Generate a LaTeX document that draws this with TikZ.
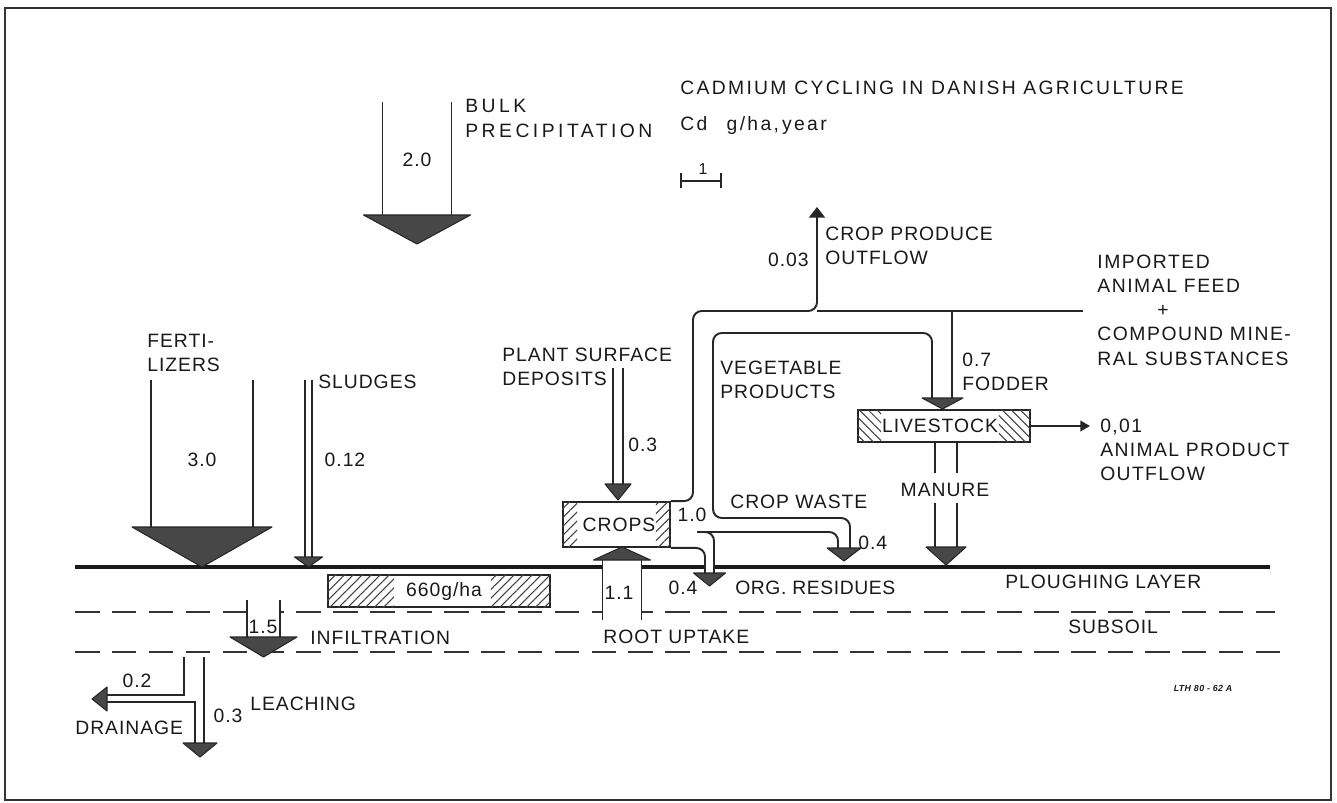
\documentclass[tikz,border=0pt]{standalone}
\usepackage{fontspec}
\setmainfont{Liberation Sans}[LetterSpace=5]
\usetikzlibrary{arrows.meta,patterns.meta,positioning}

% broad flow: x centre, shaft end, head base, half shaft, half head, tip
\newcommand\fatflow[6]{%
  \fill[white] ({#1-#4},#2) rectangle ({#1+#4},#3);
  \draw[line] ({#1-#4},#2) -- ({#1-#4},#3) ({#1+#4},#2) -- ({#1+#4},#3);
  \filldraw[head] ({#1-#5},#3) -- ({#1+#5},#3) -- (#1,#6) -- cycle;}

\begin{document}
\begin{tikzpicture}[
    x=0.02cm, y=-0.02cm,
    font=\fontsize{11}{13.8}\selectfont,
    line/.style={draw=black!85, line width=1.1pt},
    pipe/.style={line, rounded corners=5pt},
    head/.style={fill=black!72, draw=black!85, line width=0.6pt, line join=round},
    lbl/.style={inner sep=0pt, text=black!90, align=left},
    wide/.style={lbl, font=\fontsize{11}{13.8}\selectfont\addfontfeature{LetterSpace=#1}},
    store/.style={draw=black!85, line width=1.1pt, fill=white, inner sep=0pt},
    hatchR/.style={pattern={Lines[angle=45,distance=3.6pt,line width=0.6pt]}, pattern color=black!75},
    hatchL/.style={pattern={Lines[angle=-45,distance=3.6pt,line width=0.6pt]}, pattern color=black!75},
    ground/.style={draw=black!90, line width=2.6pt},
    layer/.style={draw=black!80, line width=1pt, dash pattern=on 14pt off 7pt}
  ]
  \useasboundingbox (0,0) rectangle (1337,803);
  \draw[black!80, line width=1.6pt] (5,8) rectangle (1331,800);

  % soil surface and layers
  \draw[ground] (75,567) -- (1270,567);
  \draw[layer] (75,612) -- (1275,612);
  \draw[layer] (75,652) -- (1280,652);

  % storages
  \node[store, minimum width=4.44cm, minimum height=0.64cm] (pool) at (439,591) {};
  \fill[hatchR] (pool.north west) rectangle ([xshift=1.34cm]pool.south west);
  \fill[hatchR] ([xshift=-1.2cm]pool.north east) rectangle (pool.south east);
  \node[lbl] (pooltxt) at (444,591) {660g/ha};

  \node[store, minimum width=2.14cm, minimum height=0.9cm] (crops) at (616.5,524.5) {};
  \fill[hatchR] (crops.north west) rectangle ([xshift=0.3cm]crops.south west);
  \fill[hatchR] ([xshift=-0.3cm]crops.north east) rectangle (crops.south east);
  \node[lbl] (cropstxt) at (619,524.5) {CROPS};

  \node[store, minimum width=3.44cm, minimum height=0.64cm] (stock) at (944,426) {};
  \fill[hatchL] (stock.north west) rectangle ([xshift=0.48cm]stock.south west);
  \fill[hatchL] ([xshift=-0.64cm]stock.north east) rectangle (stock.south east);
  \node[lbl] (stocktxt) at (940,426) {LIVESTOCK};

  % inputs from above
  \fatflow{417}{102}{215}{34.5}{53.5}{244}
  \fatflow{202}{380}{527}{51}{70}{567}
  \fatflow{308.5}{380}{557}{3.5}{14}{567}
  \fatflow{618}{368}{484}{5}{13}{500}
  % root uptake, infiltration
  \fatflow{622}{620}{560}{19.5}{28.5}{547}
  \fatflow{263.5}{600}{637}{16.5}{33.5}{657}

  % pipes leaving the crops
  \coordinate (split) at (697,532);
  \coordinate (cpo) at (817,207);
  \coordinate (feed) at (1083,311);
  \draw[pipe, -{Triangle[width=9pt,length=6pt]}] (crops.north east) -| (693,311) -| (cpo);
  \draw[line] (feed) -- (817,311);
  \draw[line] (952,311) -- (952,398);
  \draw[pipe] (932,398) |- (713,333) |- (850,518) -- (850,548);
  \draw[pipe] (split) -| (838,548);
  \fill[white] (706,552) rectangle (713,572);
  \draw[pipe] (split) -| (714,573);
  \draw[pipe] (crops.south east) -| (705,573);
  \filldraw[head] (922,398) -- (963,398) -- (942.5,409) -- cycle;
  \filldraw[head] (827,548) -- (861,548) -- (844,561) -- cycle;
  \filldraw[head] (693.5,573) -- (725.5,573) -- (709.5,586) -- cycle;

  % livestock outputs
  \coordinate (aout) at (1090,426);
  \draw[line, -{Triangle[width=6pt,length=5.5pt]}] (stock.east) -- (aout);
  \draw[line] (935,442) -- (935,473) (957,442) -- (957,473);
  \fatflow{946}{503}{547}{11}{20}{565}

  % drainage and leaching
  \draw[line] (184,657) |- (107,695);
  \draw[line] (107,702) -| (195,743);
  \draw[line] (204,657) -- (204,743);
  \filldraw[head] (183,743) -- (217,743) -- (200,757) -- cycle;
  \filldraw[head] (107,687) -- (107,711) -- (92,699) -- cycle;

  % scale bar
  \coordinate (sbl) at (681,181);
  \coordinate (sbr) at (721,181);
  \draw[black!85, line width=0.9pt] (sbl) -- (sbr) ([yshift=0.15cm]sbl) -- ([yshift=-0.15cm]sbl)
    ([yshift=0.15cm]sbr) -- ([yshift=-0.15cm]sbr);
  \node[lbl, font=\fontsize{9}{10}\selectfont] (one) at (703,169) {1};

  % texts
  \node[wide=12, anchor=west] (title) at (680,88) {CADMIUM CYCLING IN DANISH AGRICULTURE};
  \node[wide=12, anchor=west] (unit) at (680,126) {Cd\quad g/ha,\,year};
  \node[lbl] (v20) at (417,160) {2.0};
  \node[wide=18, anchor=west] (bulk) at (465,118.5) {BULK\\PRECIPITATION};
  \node[lbl, anchor=west] (fert) at (147,353) {FERTI-\\LIZERS};
  \node[lbl] (v30) at (202,460) {3.0};
  \node[lbl, anchor=west] (sludge) at (318,382) {SLUDGES};
  \node[lbl] (v012) at (345,460) {0.12};
  \node[lbl, anchor=west] (plant) at (502,366.5) {PLANT SURFACE\\DEPOSITS};
  \node[lbl, anchor=west] (v03a) at (628,445) {0.3};
  \node[lbl, anchor=west] (veg) at (720,380) {VEGETABLE\\PRODUCTS};
  \node[lbl, anchor=west] (cpotxt) at (825,245.5) {CROP PRODUCE\\OUTFLOW};
  \node[lbl, anchor=east] (v003) at (809,260) {0.03};
  \node[wide=8, anchor=west] (import) at (1097,310) {IMPORTED\\ANIMAL FEED\\\hspace*{1.2cm}+\\COMPOUND MINE-\\RAL SUBSTANCES};
  \node[lbl, anchor=west] (fodder) at (962,371.5) {0.7\\FODDER};
  \node[wide=7, anchor=west] (aprod) at (1100,450) {0,01\\ANIMAL PRODUCT\\OUTFLOW};
  \node[lbl] (manure) at (945,490) {MANURE};
  \node[lbl, anchor=west] (waste) at (730,502) {CROP WASTE};
  \node[lbl] (v10) at (692,515) {1.0};
  \node[lbl, anchor=west] (v04a) at (858,543) {0.4};
  \node[lbl] (v04b) at (683,588) {0.4};
  \node[wide=3, anchor=west] (org) at (735,588) {ORG. RESIDUES};
  \node[lbl, anchor=west] (plough) at (1005,582) {PLOUGHING LAYER};
  \node[lbl, anchor=west] (subsoil) at (1068,627) {SUBSOIL};
  \node[lbl] (v11) at (619,593) {1.1};
  \node[lbl, anchor=west] (root) at (603,637) {ROOT UPTAKE};
  \node[lbl] (v15) at (263,627) {1.5};
  \node[lbl, anchor=west] (infil) at (310,638) {INFILTRATION};
  \node[lbl] (v02) at (137,681) {0.2};
  \node[lbl, anchor=west] (drain) at (75,728) {DRAINAGE};
  \node[lbl] (v03b) at (228,716) {0.3};
  \node[lbl, anchor=west] (leach) at (250,704) {LEACHING};
  \node[lbl, font=\fontsize{5}{6}\selectfont\bfseries\itshape] (code) at (1203,688) {LTH 80 - 62 A};
\end{tikzpicture}
\end{document}
